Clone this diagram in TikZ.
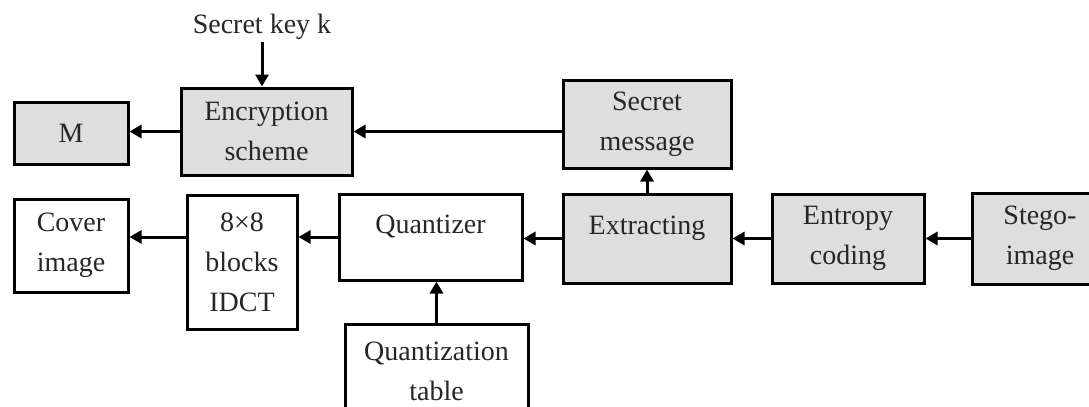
\documentclass[tikz,border=0pt]{standalone}
\usepackage{fontspec}
\setmainfont{Liberation Serif}
\usetikzlibrary{arrows.meta}

\begin{document}
\begin{tikzpicture}[x=0.5pt,y=-0.5pt,
  blk/.style={draw,line width=1.5pt,align=center,inner sep=0pt,font=\fontsize{14}{20}\selectfont,text=black!85},
  grayblk/.style={blk,fill=black!13},
  toptext/.style={text height=10pt,text depth=14pt},
  arr/.style={line width=1.5pt,-{Triangle[length=6pt,width=6.5pt]}}]
\clip (0,0) rectangle (1089,407);

\node[grayblk,minimum width=57pt,minimum height=31pt] (m) at (71,133) {M};
\node[grayblk,minimum width=85.5pt,minimum height=43.5pt] (enc) at (266.5,131.5) {Encryption\\scheme};
\node[grayblk,minimum width=84pt,minimum height=44pt] (msg) at (647,124) {Secret\\message};
\node[blk,minimum width=57pt,minimum height=46.5pt] (cover) at (71,245.5) {Cover\\image};
\node[blk,minimum width=55pt,minimum height=67pt] (idct) at (242,262) {8×8\\blocks\\IDCT};
\node[blk,toptext,minimum width=91.5pt,minimum height=43pt] (quant) at (430.5,237) {Quantizer};
\node[grayblk,toptext,minimum width=84pt,minimum height=44.5pt] (extract) at (647,238.5) {Extracting};
\node[grayblk,minimum width=76pt,minimum height=44.5pt] (entropy) at (848,238.5) {Entropy\\coding};
\node[grayblk,minimum width=68pt,minimum height=45.5pt] (stego) at (1040,238.5) {Stego-\\image};
\node[blk,minimum width=91.5pt,minimum height=47pt] (qtable) at (436.5,371) {Quantization\\table};
\node[font=\fontsize{14}{20}\selectfont,text=black!85,inner sep=1.5pt,anchor=base] (key) at (262,33) {Secret key k};

\draw[arr] (key.south) -- (key.south |- enc.north);
\draw[arr] (enc.west) -- (enc.west -| m.east);
\draw[arr] (msg.west |- enc.east) -- (enc.east);
\draw[arr] (extract.north) -- (msg.south);
\draw[arr] (stego.west) -- (entropy.east);
\draw[arr] (entropy.west) -- (extract.east);
\draw[arr] (extract.west) -- (extract.west -| quant.east);
\draw[arr] (quant.west) -- (quant.west -| idct.east);
\draw[arr] (idct.west |- quant.west) -- (cover.east |- quant.west);
\draw[arr] (qtable.north) -- (qtable.north |- quant.south);
\end{tikzpicture}
\end{document}
